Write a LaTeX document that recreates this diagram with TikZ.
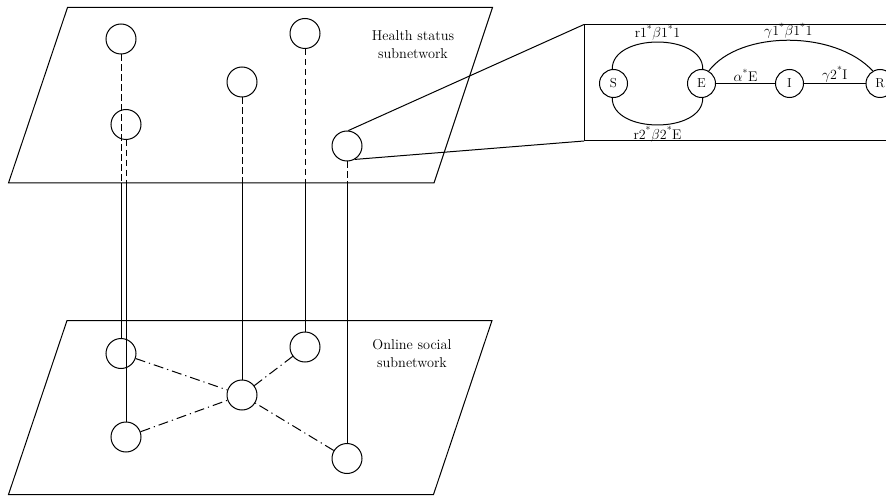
\documentclass[tikz,border=0pt]{standalone}
\usepackage{amsmath}
\usepackage{tikz}
\usetikzlibrary{positioning,calc}

\tikzset{
  person/.style={circle, draw, minimum size=30pt, inner sep=0pt},
  state/.style={circle, draw, minimum size=28pt, inner sep=0pt, font=\fontsize{13}{15}\selectfont},
  rate/.style={font=\fontsize{14}{16}\selectfont, inner sep=1pt},
  layer/.style={font=\fontsize{14.3}{18.5}\selectfont, align=center},
  tie/.style={dash pattern=on 6.5pt off 3.5pt},
  friend/.style={dash pattern=on 10pt off 4pt on 1.2pt off 4pt},
}
\newcommand{\st}{\textsuperscript{*}}

\begin{document}
\begin{tikzpicture}[x=1pt, y=-1pt, line width=1pt]
\useasboundingbox (0,0) rectangle (886,497);
\clip (0,0) rectangle (886,497);

% Two layers
\draw (67.5,7.5) -- (492.5,7.5) -- (434,183) -- (8.5,183) -- cycle;
\draw (67,320.5) -- (492,320.5) -- (433.5,494.5) -- (8.5,494.5) -- cycle;
\coordinate (edge) at (0,183);
\node[layer] (health) at (413,44.5) {Health status\\subnetwork};
\node[layer] (online) at (412,353.5) {Online social\\subnetwork};

% Health status nodes
\node[person] (h1) at (121,39) {};
\node[person] (h2) at (126,124.5) {};
\node[person] (h3) at (242,82) {};
\node[person] (h4) at (305,33.5) {};
\node[person] (h5) at (347,146) {};

% Online social nodes
\node[person] (s1) at (121,353.5) {};
\node[person] (s2) at (126,437) {};
\node[person] (s3) at (242,395) {};
\node[person] (s4) at (305,347) {};
\node[person] (s5) at (347,458.5) {};

% Links between the layers
\foreach \i in {1,...,5} {
  \draw[tie] (h\i.south) -- (h\i.south |- edge);
  \draw (h\i.south |- edge) -- (s\i.north);
}

% Social ties
\draw[friend] (s1) -- (s3);
\draw[friend] (s2) -- (s3);
\draw[friend] (s4) -- (s3);
\draw[friend] (s5) -- (s3);

% Zoomed model
\coordinate (boxtl) at (584,24.5);
\coordinate (boxbl) at (584,141);
\draw (boxtl) rectangle (900,141);
\draw (h5.85) -- (boxtl);
\draw (h5.-60) -- (boxbl);

\node[state] (nS) at (613.5,83.5) {S};
\node[state] (nE) at (701.5,83.5) {E};
\node[state] (nI) at (789.5,83.5) {I};
\node[state] (nR) at (880,83.5) {R};

\draw (nS.95) .. controls (612,33) and (703,33) .. (nE.85)
  node[rate, pos=0.5, above] {r1\st$\beta$1\st1};
\draw (nS.-95) .. controls (612,134) and (703,134) .. (nE.-85)
  node[rate, pos=0.5, below] {r2\st$\beta$2\st E};
\draw (nE.60) .. controls (740,30) and (835,30) .. (nR.120)
  node[rate, pos=0.5, above] {$\gamma$1\st$\beta$1\st1};
\draw (nE) -- (nI) node[rate, midway, above] {$\alpha$\st E};
\draw (nI) -- (nR) node[rate, midway, above] {$\gamma$2\st I};
\end{tikzpicture}
\end{document}
